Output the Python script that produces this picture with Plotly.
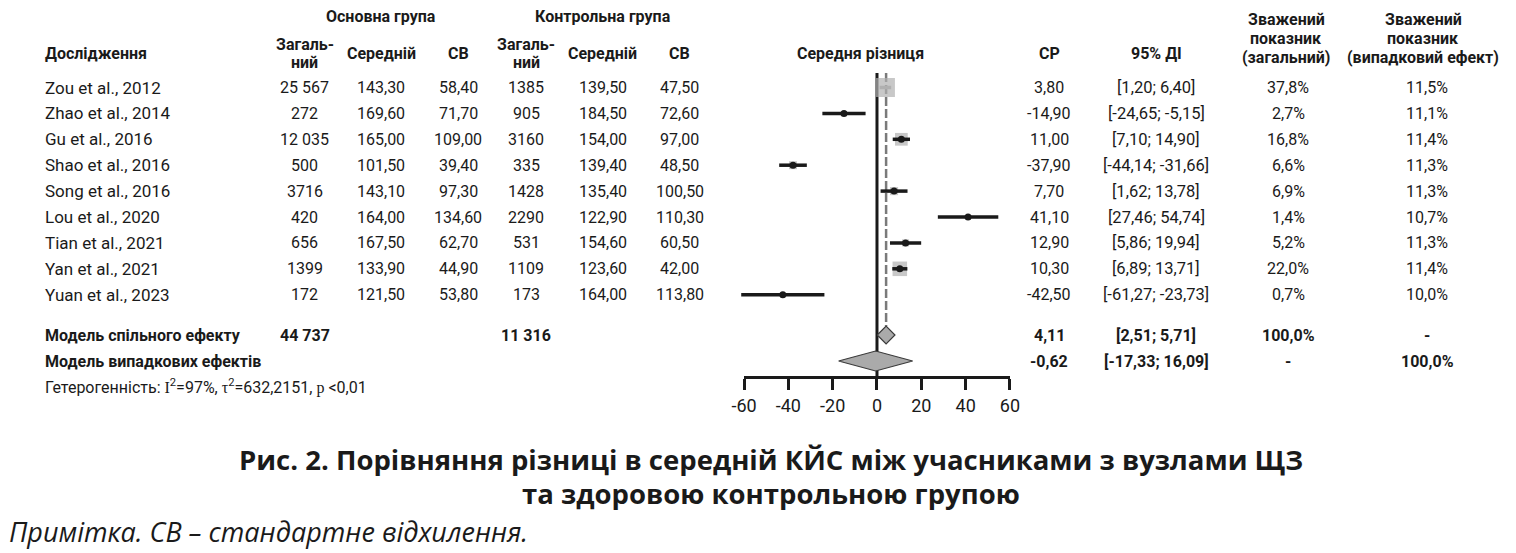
import plotly.graph_objects as go

# ---------------- data ----------------
studies = ["Zou et al., 2012", "Zhao et al., 2014", "Gu et al., 2016", "Shao et al., 2016",
           "Song et al., 2016", "Lou et al., 2020", "Tian et al., 2021", "Yan et al., 2021",
           "Yuan et al., 2023"]
exp_n = [25567, 272, 12035, 500, 3716, 420, 656, 1399, 172]
exp_mean = [143.30, 169.60, 165.00, 101.50, 143.10, 164.00, 167.50, 133.90, 121.50]
exp_sd = [58.40, 71.70, 109.00, 39.40, 97.30, 134.60, 62.70, 44.90, 53.80]
ctrl_n = [1385, 905, 3160, 335, 1428, 2290, 531, 1109, 173]
ctrl_mean = [139.50, 184.50, 154.00, 139.40, 135.40, 122.90, 154.60, 123.60, 164.00]
ctrl_sd = [47.50, 72.60, 97.00, 48.50, 100.50, 110.30, 60.50, 42.00, 113.80]
md = [3.80, -14.90, 11.00, -37.90, 7.70, 41.10, 12.90, 10.30, -42.50]
ci_lo = [1.20, -24.65, 7.10, -44.14, 1.62, 27.46, 5.86, 6.89, -61.27]
ci_hi = [6.40, -5.15, 14.90, -31.66, 13.78, 54.74, 19.94, 13.71, -23.73]
w_fixed = [37.8, 2.7, 16.8, 6.6, 6.9, 1.4, 5.2, 22.0, 0.7]
w_random = [11.5, 11.1, 11.4, 11.3, 11.3, 10.7, 11.3, 11.4, 10.0]

fixed_label = "Модель спільного ефекту"
fixed_n_exp = 44737
fixed_n_ctrl = 11316
fixed_md = 4.11
fixed_ci = [2.51, 5.71]
fixed_w = [100.0, None]

random_label = "Модель випадкових ефектів"
random_md = -0.62
random_ci = [-17.33, 16.09]
random_w = [None, 100.0]

het_I2 = "97%"
het_tau2 = "632,2151"
het_p = "<0,01"

x_ticks = [-60, -40, -20, 0, 20, 40, 60]

caption1 = "Рис. 2. Порівняння різниці в середній КЙС між учасниками з вузлами ЩЗ"
caption2 = "та здоровою контрольною групою"
note_it = "Примітка. СВ – стандартне відхилення."

# ---------------- layout constants ----------------
W, H = 1516, 553
AX_L, AX_R = 742.3, 1012.3          # pixel span of -60..60
XMIN, XMAX = -60, 60
SCALE = (AX_R - AX_L) / (XMAX - XMIN)
X0PX = AX_L - XMIN * SCALE
AXIS_Y = 377
ROW0, ROWSTEP = 87.5, 25.9
FIXED_Y, RANDOM_Y, HET_Y = 335, 361, 386
TOP_LINE = 73

FONT = "Roboto, 'Noto Sans', sans-serif"
BLACK = "#1a1a1a"
SQ_GREY = "#b0b0b0"
DIA_GREY = "#aaaaaa"

rows = [ROW0 + i * ROWSTEP for i in range(len(studies))]


def fnum(v, d=2):
    return f"{v:.{d}f}".replace(".", ",")


def fint(n):
    return f"{n:,}".replace(",", " ") if n >= 10000 else str(n)


def fpct(v):
    return "-" if v is None else fnum(v, 1) + "%"


def fci(lo, hi):
    return f"[{fnum(lo)}; {fnum(hi)}]"


def px(p):
    return p / W


fig = go.Figure()

# squares (weights)
sq_sizes = [3.1 * (w ** 0.5) for w in w_fixed]
fig.add_trace(go.Scatter(x=md, y=rows, mode="markers", xaxis="x2", yaxis="y",
                         marker=dict(symbol="square", size=sq_sizes, color=SQ_GREY,
                                     line=dict(width=0)),
                         hoverinfo="skip", showlegend=False))

# CI lines (hidden inside square when CI narrower than square)
vis_x, vis_y, in_x, in_y, dot_x, dot_y = [], [], [], [], [], []
for m, lo, hi, y, s in zip(md, ci_lo, ci_hi, rows, sq_sizes):
    if (hi - lo) * SCALE > s:
        vis_x += [lo, hi, None]
        vis_y += [y, y, None]
        dot_x.append(m)
        dot_y.append(y)
    else:
        in_x += [lo, hi, None]
        in_y += [y, y, None]
fig.add_trace(go.Scatter(x=in_x, y=in_y, mode="lines", xaxis="x2", yaxis="y",
                         line=dict(color=SQ_GREY, width=3.5), hoverinfo="skip", showlegend=False))
fig.add_trace(go.Scatter(x=vis_x, y=vis_y, mode="lines", xaxis="x2", yaxis="y",
                         line=dict(color=BLACK, width=3.5), hoverinfo="skip", showlegend=False))
fig.add_trace(go.Scatter(x=dot_x, y=dot_y, mode="markers", xaxis="x2", yaxis="y",
                         marker=dict(color=BLACK, size=7), hoverinfo="skip", showlegend=False))


def diamond(center, lo, hi, yc, half_h, min_half_px=0):
    hw = (hi - lo) / 2
    if hw * SCALE < min_half_px:
        hw = min_half_px / SCALE
        l, r = center - hw, center + hw
    else:
        l, r = lo, hi
    return [l, center, r, center, l], [yc, yc - half_h, yc, yc + half_h, yc]


dx, dy = diamond(fixed_md, fixed_ci[0], fixed_ci[1], FIXED_Y, 9, min_half_px=9)
fig.add_trace(go.Scatter(x=dx, y=dy, mode="lines", fill="toself", fillcolor=DIA_GREY,
                         line=dict(color="#3a3a3a", width=1.2), xaxis="x", yaxis="y",
                         hoverinfo="skip", showlegend=False))
dx, dy = diamond(random_md, random_ci[0], random_ci[1], RANDOM_Y, 10)
fig.add_trace(go.Scatter(x=dx, y=dy, mode="lines", fill="toself", fillcolor=DIA_GREY,
                         line=dict(color="#3a3a3a", width=1.2), xaxis="x", yaxis="y",
                         hoverinfo="skip", showlegend=False))

# reference lines
fig.add_shape(type="line", xref="x", yref="y", x0=0, x1=0, y0=TOP_LINE, y1=AXIS_Y,
              line=dict(color=BLACK, width=3), layer="below")
fig.add_shape(type="line", xref="x", yref="y", x0=fixed_md, x1=fixed_md, y0=TOP_LINE,
              y1=FIXED_Y - 9, line=dict(color="#7a7a7a", width=2.5, dash="9px,3px"), layer="below")

# ---------------- text ----------------
def txt(x, y, s, size=16, bold=False, anchor="center", family=FONT, italic=False, color=BLACK):
    if bold:
        s = f"<b>{s}</b>"
    if italic:
        s = f"<i>{s}</i>"
    fig.add_annotation(x=px(x), y=y, xref="paper", yref="y", text=s, showarrow=False,
                       xanchor=anchor, yanchor="middle",
                       font=dict(family=family, size=size, color=color))


STUDY_X = 30
C_EN, C_EM, C_ES = 296, 374, 452
C_CN, C_CM, C_CS = 521, 599, 677
C_FOREST, C_MD, C_CI, C_WF, C_WR = 861, 1052, 1161, 1295, 1436

# headers
txt(374, 16, "Основна група", bold=True)
txt(599, 16, "Контрольна група", bold=True)
txt(STUDY_X, 53, "Дослідження", bold=True, anchor="left")
for cx in (C_EN, C_CN):
    txt(cx, 44, "Загаль-", bold=True)
    txt(cx, 62, "ний", bold=True)
txt(C_EM, 53, "Середній", bold=True)
txt(C_CM, 53, "Середній", bold=True)
txt(C_ES, 53, "СВ", bold=True)
txt(C_CS, 53, "СВ", bold=True)
txt(C_FOREST, 53, "Середня різниця", bold=True)
txt(C_MD, 53, "СР", bold=True)
txt(C_CI, 53, "95% ДІ", bold=True)
for cx, last in ((1293, "(загальний)"), (1432, "(випадковий ефект)")):
    txt(cx, 19, "Зважений", bold=True)
    txt(cx, 38, "показник", bold=True)
    txt(cx, 57, last, bold=True)

# study rows
for i, y in enumerate(rows):
    txt(STUDY_X, y, studies[i], size=17, anchor="left")
    txt(C_EN, y, fint(exp_n[i]))
    txt(C_EM, y, fnum(exp_mean[i]))
    txt(C_ES, y, fnum(exp_sd[i]))
    txt(C_CN, y, fint(ctrl_n[i]))
    txt(C_CM, y, fnum(ctrl_mean[i]))
    txt(C_CS, y, fnum(ctrl_sd[i]))
    txt(C_MD, y, fnum(md[i]))
    txt(C_CI, y, fci(ci_lo[i], ci_hi[i]), size=16.5)
    txt(C_WF, y, fpct(w_fixed[i]))
    txt(C_WR, y, fpct(w_random[i]))

# pooled rows
txt(STUDY_X, FIXED_Y, fixed_label, bold=True, anchor="left")
txt(C_EN, FIXED_Y, fint(fixed_n_exp), bold=True)
txt(C_CN, FIXED_Y, fint(fixed_n_ctrl), bold=True)
txt(C_MD, FIXED_Y, fnum(fixed_md), bold=True)
txt(C_CI, FIXED_Y, fci(*fixed_ci), bold=True)
txt(C_WF, FIXED_Y, fpct(fixed_w[0]), bold=True)
txt(C_WR, FIXED_Y, fpct(fixed_w[1]), bold=True)

txt(STUDY_X, RANDOM_Y, random_label, bold=True, anchor="left")
txt(C_MD, RANDOM_Y, fnum(random_md), bold=True)
txt(C_CI, RANDOM_Y, fci(*random_ci), bold=True)
txt(C_WF, RANDOM_Y, fpct(random_w[0]), bold=True)
txt(C_WR, RANDOM_Y, fpct(random_w[1]), bold=True)

serif = "style=\"font-family:'Liberation Serif','DejaVu Serif',serif\""
het = (f"Гетерогенність: <span {serif}>I</span><sup>2</sup>={het_I2}, "
       f"<span {serif}>τ</span><sup>2</sup>={het_tau2}, <span {serif}>p</span> {het_p}")
txt(STUDY_X, HET_Y, het, size=16, anchor="left")

# caption and note
CAP_FONT = "'Open Sans', 'Noto Sans', sans-serif"
txt(770, 459, caption1, size=27.5, bold=True, family=CAP_FONT)
txt(770, 493, caption2, size=27.5, bold=True, family=CAP_FONT)
txt(-6, 531, note_it, size=27, italic=True, family=CAP_FONT, anchor="left")

# ---------------- axes ----------------
fig.update_layout(
    width=W, height=H, autosize=False, margin=dict(l=0, r=0, t=0, b=0, pad=0),
    paper_bgcolor="white", plot_bgcolor="rgba(0,0,0,0)",
    showlegend=False, hovermode=False,
    xaxis=dict(domain=[AX_L / W, AX_R / W], range=[XMIN, XMAX], anchor="free",
               position=1 - AXIS_Y / H, side="bottom",
               showgrid=False, zeroline=False, showline=True, linecolor=BLACK, linewidth=3,
               ticks="outside", ticklen=11, tickwidth=3, tickcolor=BLACK,
               tickvals=x_ticks, ticktext=[str(v) for v in x_ticks],
               tickfont=dict(family=FONT, size=18, color=BLACK), fixedrange=True),
    xaxis2=dict(domain=[0, 1], range=[(0 - X0PX) / SCALE, (W - X0PX) / SCALE],
                anchor="y", visible=False, fixedrange=True),
    yaxis=dict(domain=[0, 1], range=[H, 0], visible=False, fixedrange=True),
)

fig.write_html("out.html", config={"responsive": False, "displayModeBar": False},
               post_script="document.body.style.margin='0';document.body.style.overflow='hidden';")
